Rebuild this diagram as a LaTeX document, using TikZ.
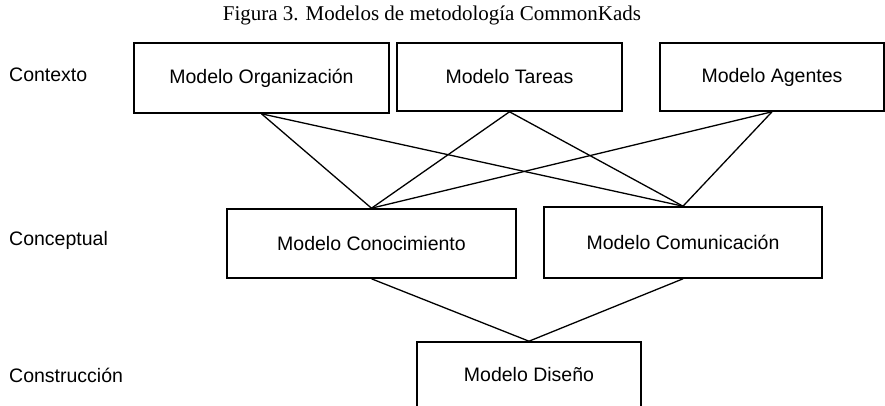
\documentclass[tikz,border=0pt]{standalone}
\usepackage{fontspec}
\setmainfont{Liberation Sans}
\newfontfamily\titlefont{Liberation Serif}
\begin{document}
\begin{tikzpicture}[x=1pt,y=-1pt,
  box/.style={draw, line width=1.6pt, rectangle, inner sep=0pt, font=\fontsize{19.5}{22}\selectfont},
  lvl/.style={anchor=west, inner sep=0pt, font=\fontsize{19.5}{22}\selectfont},
  link/.style={line width=1.3pt}]
\useasboundingbox (0,0) rectangle (885,406);
\node[font=\titlefont\fontsize{21}{23}\selectfont, inner sep=0pt] (title) at (432,15) {Figura 3. Modelos de metodología CommonKads};
\node[lvl] (l1) at (9,75) {Contexto};
\node[lvl] (l2) at (9,240) {Conceptual};
\node[lvl] (l3) at (9,375) {Construcción};
\node[box, minimum width=255pt, minimum height=70pt] (org) at (261.5,78) {Modelo Organización};
\node[box, minimum width=225pt, minimum height=68pt] (tar) at (509.5,77) {Modelo Tareas};
\node[box, minimum width=224pt, minimum height=68pt] (age) at (772,77) {Modelo Agentes};
\node[box, minimum width=289pt, minimum height=69pt] (con) at (371.5,243.5) {Modelo Conocimiento};
\node[box, minimum width=278pt, minimum height=71pt] (com) at (683,242.5) {Modelo Comunicación};
\node[box, minimum width=224pt, minimum height=66pt] (dis) at (529,375) {Modelo Diseño};
\foreach \a in {org,tar,age}{
  \draw[link] (\a.south) -- (con.north);
  \draw[link] (\a.south) -- (com.north);
}
\draw[link] (con.south) -- (dis.north);
\draw[link] (com.south) -- (dis.north);
\end{tikzpicture}
\end{document}
